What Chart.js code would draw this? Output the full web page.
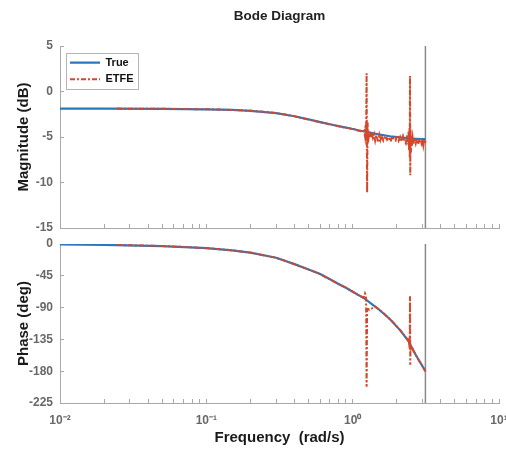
<!DOCTYPE html>
<html><head><meta charset="utf-8">
<script src="https://cdn.jsdelivr.net/npm/chart.js@4/dist/chart.umd.min.js"></script>
<style>
html,body{margin:0;padding:0;background:#fff;width:506px;height:452px;overflow:hidden}
canvas{position:absolute;left:0}
#c1{top:0;width:506px;height:236px}
#c2{top:236px;width:506px;height:216px}
</style></head><body>
<canvas id="c1" width="506" height="236"></canvas>
<canvas id="c2" width="506" height="216"></canvas>
<script>
// ---------- data ----------
const chartTitle = 'Bode Diagram';
const seriesNames = ['True', 'ETFE'];
const xRange = [0.01, 10];
const nyquistFreq = 3.1416;
const magTicks = [-15, 5, 5];      // min, max, step
const phaseTicks = [-225, 0, 45];  // min, max, step

const freqTrue  = [0.01,0.02,0.05,0.1,0.15,0.2,0.3,0.4,0.5,0.6,0.7,0.8,0.9,1.0,1.2,1.5,1.8,2.1,2.4,2.7,3.0,3.1416];
const magTrue   = [-1.88,-1.89,-1.91,-1.96,-2.03,-2.12,-2.38,-2.72,-3.06,-3.36,-3.6,-3.8,-3.97,-4.12,-4.4,-4.72,-4.92,-5.05,-5.14,-5.19,-5.22,-5.23];
const phaseTrue = [-0.6,-1.2,-2.9,-5.8,-8.9,-12.3,-19.5,-28.5,-36,-42.5,-50,-56.5,-62,-67.5,-77,-92,-106.5,-121.5,-137,-157,-173,-180];

const freqEtfe = [
 0.0245,0.049,0.0736,0.098,0.123,0.147,0.196,0.245,0.295,0.344,0.393,
 0.442,0.491,0.54,0.589,0.638,0.687,0.736,0.785,0.834,0.884,0.933,
 0.982,1.031,1.08,1.129,1.178,1.20,1.215,1.227,1.235,1.245,1.255,
 1.265,1.276,1.30,1.325,1.35,1.374,1.399,1.424,1.448,1.473,1.497,
 1.522,1.547,1.571,1.62,1.669,1.718,1.767,1.817,1.866,1.915,1.964,
 2.013,2.062,2.111,2.16,2.209,2.258,2.307,2.356,2.39,2.41,2.43,
 2.445,2.455,2.465,2.475,2.485,2.50,2.52,2.54,2.57,2.60,2.65,
 2.70,2.75,2.80,2.85,2.90,2.95,3.00,3.04,3.08,3.12,3.1416];
const magEtfe = [
 -1.88,-1.9,-1.93,-1.95,-1.98,-2.02,-2.1,-2.22,-2.36,-2.52,-2.7,
 -2.9,-3.05,-3.2,-3.35,-3.45,-3.6,-3.68,-3.8,-3.85,-3.98,-4.0,
 -4.1,-4.15,-4.3,-4.35,-4.45,-4.3,-4.9,-3.7,-5.4,2.0,-11.1,
 -3.4,-5.6,-4.3,-5.1,-4.6,-5.1,-4.7,-5.4,-4.8,-5.2,-5.6,
 -4.8,-5.3,-4.9,-5.4,-4.9,-5.3,-5.0,-5.5,-4.9,-5.3,-5.4,
 -4.8,-5.4,-5.0,-5.5,-4.9,-5.4,-5.7,-4.8,-5.8,-4.4,-6.5,
 -4.0,-7.2,1.7,-9.2,-4.1,-6.7,-4.8,-6.0,-5.1,-5.8,-5.1,
 -5.7,-5.2,-5.8,-5.2,-5.6,-5.8,-5.2,-5.9,-5.3,-5.7,-5.4];
const phaseEtfe = [
 -1.4,-2.8,-4.3,-5.7,-7.3,-8.8,-12,-15.8,-19.3,-23.5,-28,
 -32,-35.5,-38.8,-42,-45.8,-49.2,-52.5,-55.5,-58.5,-61,-64,
 -66.5,-69,-71.5,-73.5,-76,-74,-70,-72,-77,-202,-95,
 -92,-92,-93,-92,-91.5,-90,-89,-88.5,-89.5,-90.8,-92,
 -93.1,-94.3,-95.4,-97.8,-100.2,-102.6,-105,-107.4,-109.8,-112.2,-114.6,
 -117,-119.5,-122,-124.5,-127,-129.5,-132,-134.7,-136.5,-135.5,-141,
 -137,-144,-74,-171,-143,-147,-144,-150,-148.5,-151,-154,
 -157,-160,-163,-165.5,-168,-170.5,-173,-175,-177,-179,-180];

// ---------- styling ----------
const FONT = "'Liberation Sans', Arial, Helvetica, sans-serif";
const AXIS = '#a9a9a9', TICKTXT = '#686868';
const BLUE = '#2d77bf', RED = '#d4472a', VLINE = '#8a8a8a';
const SUP = {'-':'\u207B','0':'\u2070','1':'\u00B9','2':'\u00B2','3':'\u00B3'};
function decadeLabel(v){
  const e = Math.log10(v), r = Math.round(e);
  if (Math.abs(e - r) > 1e-6) return '';
  return '10' + String(r).split('').map(c => SUP[c]).join('');
}
const xTickValues = [];
for (let e = Math.log10(xRange[0]); e < Math.log10(xRange[1]); e++)
  for (let m = 1; m <= 9; m++) xTickValues.push(Number((m * Math.pow(10, e)).toPrecision(3)));
xTickValues.push(xRange[1]);

const pts = (xs, ys) => xs.map((x, i) => ({x, y: ys[i]}));

function xScale(showLabels){
  return {
    type:'logarithmic', min:xRange[0], max:xRange[1],
    border:{color:AXIS, width:1},
    grid:{display:true, drawOnChartArea:false, drawTicks:true, tickLength:-4, color:AXIS, tickColor:AXIS},
    afterBuildTicks(s){ s.ticks = xTickValues.map(v => ({value:v})); },
    ticks:{display:showLabels, autoSkip:false, maxRotation:0, minRotation:0, color:TICKTXT,
      font:{family:FONT, size:12, weight:'bold'}, padding:14, callback:decadeLabel},
    title:{display:showLabels, text:'Frequency  (rad/s)', color:'#1a1a1a',
      font:{family:FONT, size:15, weight:'bold'}, padding:{top:0, bottom:5}},
    afterFit(s){ s.height = showLabels ? 49 : 8; s.paddingLeft = 0; s.paddingRight = 0; }
  };
}
function yScale(t, title){
  return {
    type:'linear', min:t[0], max:t[1],
    border:{color:AXIS, width:1},
    grid:{display:true, drawOnChartArea:false, drawTicks:true, tickLength:-4, color:AXIS, tickColor:AXIS},
    ticks:{stepSize:t[2], color:TICKTXT, font:{family:FONT, size:12, weight:'bold'}, padding:11},
    title:{display:true, text:title, color:'#1a1a1a', font:{family:FONT, size:15, weight:'bold'}, padding:{top:15, bottom:0}},
    afterFit(s){ s.width = 60; s.paddingTop = 0; s.paddingBottom = 0; }
  };
}
function datasets(xsT, ysT, xsE, ysE, yr){
  return [
    {label:seriesNames[0], data:pts(xsT, ysT), borderColor:BLUE, backgroundColor:BLUE, borderWidth:2.2, order:2},
    {label:seriesNames[1], data:pts(xsE, ysE), borderColor:RED, backgroundColor:RED, borderWidth:2, borderDash:[5,2,2,2], order:1},
    {label:'', data:pts([nyquistFreq, nyquistFreq], [yr[0], yr[1]]), borderColor:VLINE, borderWidth:1.5, order:3}
  ];
}
const legendFrame = {
  id:'legendFrame',
  afterLayout(chart){
    if (!chart.options.plugins.legend.display) return;
    chart.legend.left = chart.chartArea.left + 4.5;
    chart.legend.top = chart.chartArea.top + 5.7;
  },
  afterDraw(chart){
    const lg = chart.legend;
    if (!chart.options.plugins.legend.display || !lg.legendHitBoxes.length) return;
    const p = lg.options.labels.padding;
    const maxW = Math.max(...lg.legendHitBoxes.map(h => h.width));
    const n = lg.legendHitBoxes.length, ih = lg.legendHitBoxes[0].height;
    const ctx = chart.ctx;
    ctx.save();
    ctx.strokeStyle = '#b5b5b5'; ctx.lineWidth = 1;
    ctx.strokeRect(Math.round(lg.left + p - 4) + 0.5, Math.round(lg.top + p - 4) + 0.5,
      Math.round(maxW + 8), Math.round(n * ih + (n - 1) * p + 8));
    ctx.restore();
  }
};
function makeChart(id, ds, yScaleCfg, showX, top){
  return new Chart(document.getElementById(id), {
    type:'line',
    data:{datasets:ds},
    plugins:[legendFrame],
    options:{
      responsive:false, animation:false, devicePixelRatio:1,
      layout:{padding:{left:0, right:7, top: top ? 0 : 8, bottom:0}},
      elements:{point:{radius:0}, line:{tension:0, fill:false}},
      scales:{x:xScale(showX), y:yScaleCfg},
      plugins:{
        tooltip:{enabled:false},
        title:{display:top, text:chartTitle, fullSize:false, color:'#222',
          font:{family:FONT, size:13.5, weight:'bold'}, padding:{top:8, bottom:21.8}},
        legend:{display:top, position:'chartArea', align:'start',
          labels:{usePointStyle:false, boxWidth:30, boxHeight:0, padding:5.5,
            color:'#111', font:{family:FONT, size:11, weight:'bold'},
            filter:(it) => it.text !== '', sort:(a, b) => a.datasetIndex - b.datasetIndex}}
      }
    }
  });
}
makeChart('c1', datasets(freqTrue, magTrue, freqEtfe, magEtfe, [magTicks[0], magTicks[1]]),
  yScale(magTicks, 'Magnitude (dB)'), false, true);
makeChart('c2', datasets(freqTrue, phaseTrue, freqEtfe, phaseEtfe, [phaseTicks[0], phaseTicks[1]]),
  yScale(phaseTicks, 'Phase (deg)'), true, false);
</script></body></html>
